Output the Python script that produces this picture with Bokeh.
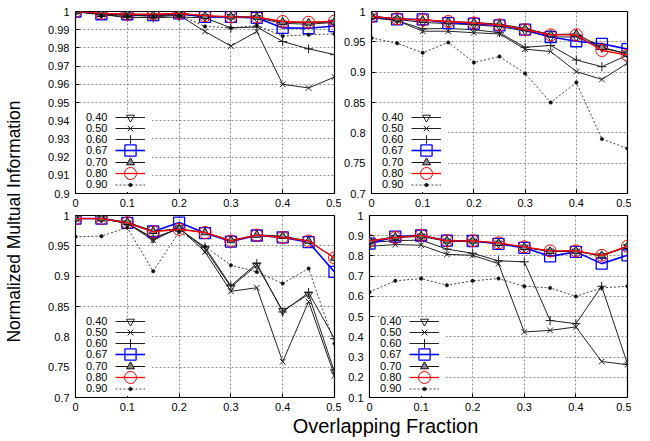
import math
from bokeh.plotting import figure
from bokeh.models import Range1d, FixedTicker, Legend, LegendItem, Label
from bokeh.layouts import row, column
from bokeh.embed import file_html
from bokeh.resources import INLINE

# ---------------- data ----------------
x = [0, 0.05, 0.1, 0.15, 0.2, 0.25, 0.3, 0.35, 0.4, 0.45, 0.5]
series_names = ["0.40", "0.50", "0.60", "0.67", "0.70", "0.80", "0.90"]

xticks = [0, 0.1, 0.2, 0.3, 0.4, 0.5]
xtick_labels = ["0", "0.1", "0.2", "0.3", "0.4", "0.5"]

a_yticks = [0.9, 0.91, 0.92, 0.93, 0.94, 0.95, 0.96, 0.97, 0.98, 0.99, 1]
a_ytick_labels = ["0.9", "0.91", "0.92", "0.93", "0.94", "0.95", "0.96", "0.97", "0.98", "0.99", "1"]
b_yticks = [0.7, 0.75, 0.8, 0.85, 0.9, 0.95, 1]
b_ytick_labels = ["0.7", "0.75", "0.8", "0.85", "0.9", "0.95", "1"]
d_yticks = [0.1, 0.2, 0.3, 0.4, 0.5, 0.6, 0.7, 0.8, 0.9, 1]
d_ytick_labels = ["0.1", "0.2", "0.3", "0.4", "0.5", "0.6", "0.7", "0.8", "0.9", "1"]

# top-left panel
a40 = [1.000, 0.9985, 0.998, 0.9975, 0.9985, 0.997, 0.997, 0.9965, 0.9935, 0.993, 0.994]
a50 = [1.000, 0.9985, 0.9965, 0.997, 0.998, 0.989, 0.981, 0.989, 0.960, 0.958, 0.964]
a60 = [1.000, 0.9985, 0.997, 0.9965, 0.997, 0.9965, 0.991, 0.9915, 0.9835, 0.9795, 0.9763]
a67 = [1.000, 0.9985, 0.9985, 0.998, 0.999, 0.997, 0.997, 0.9965, 0.991, 0.9908, 0.992]
a70 = [1.000, 0.9985, 0.9985, 0.998, 0.999, 0.9975, 0.9972, 0.997, 0.9942, 0.9938, 0.9943]
a80 = [1.000, 0.999, 0.9985, 0.9985, 0.999, 0.9977, 0.997, 0.9969, 0.9945, 0.9941, 0.9947]
a90 = [1.000, 0.998, 0.998, 0.9975, 0.998, 0.9918, 0.991, 0.9923, 0.9865, 0.9872, 0.9877]

# top-right panel
b40 = [0.992, 0.987, 0.982, 0.980, 0.978, 0.975, 0.968, 0.958, 0.958, 0.940, 0.930]
b50 = [0.990, 0.985, 0.9675, 0.9675, 0.965, 0.963, 0.938, 0.934, 0.901, 0.888, 0.915]
b60 = [0.990, 0.985, 0.9714, 0.972, 0.970, 0.965, 0.941, 0.944, 0.920, 0.909, 0.928]
b67 = [0.992, 0.987, 0.987, 0.981, 0.980, 0.977, 0.970, 0.958, 0.951, 0.9467, 0.938]
b70 = [0.992, 0.988, 0.986, 0.9835, 0.982, 0.979, 0.972, 0.962, 0.963, 0.941, 0.930]
b80 = [0.992, 0.988, 0.986, 0.9835, 0.981, 0.978, 0.970, 0.9615, 0.9615, 0.9357, 0.928]
b90 = [0.9565, 0.9477, 0.932, 0.949, 0.916, 0.9257, 0.898, 0.850, 0.883, 0.790, 0.774]

# bottom-left panel
c40 = [0.995, 0.995, 0.987, 0.962, 0.979, 0.945, 0.882, 0.918, 0.843, 0.870, 0.742]
c50 = [0.995, 0.995, 0.987, 0.959, 0.980, 0.940, 0.875, 0.881, 0.759, 0.858, 0.736]
c60 = [0.995, 0.995, 0.987, 0.963, 0.978, 0.948, 0.884, 0.921, 0.841, 0.873, 0.797]
c67 = [0.995, 0.995, 0.988, 0.9736, 0.9884, 0.971, 0.957, 0.967, 0.964, 0.956, 0.907]
c70 = [0.995, 0.995, 0.989, 0.974, 0.978, 0.972, 0.959, 0.968, 0.966, 0.958, 0.930]
c80 = [0.995, 0.995, 0.988, 0.973, 0.977, 0.972, 0.958, 0.9675, 0.9637, 0.958, 0.930]
c90 = [0.965, 0.966, 0.980, 0.908, 0.973, 0.949, 0.918, 0.907, 0.888, 0.9125, 0.789]

# bottom-right panel
d40 = [0.872, 0.890, 0.897, 0.872, 0.872, 0.862, 0.842, 0.822, 0.822, 0.800, 0.845]
d50 = [0.848, 0.856, 0.853, 0.808, 0.803, 0.762, 0.424, 0.432, 0.449, 0.278, 0.262]
d60 = [0.866, 0.876, 0.878, 0.834, 0.813, 0.776, 0.771, 0.481, 0.465, 0.650, 0.265]
d67 = [0.861, 0.896, 0.901, 0.876, 0.874, 0.860, 0.840, 0.798, 0.820, 0.762, 0.803]
d70 = [0.875, 0.894, 0.900, 0.875, 0.875, 0.863, 0.843, 0.823, 0.825, 0.802, 0.848]
d80 = [0.875, 0.891, 0.902, 0.875, 0.875, 0.865, 0.845, 0.825, 0.825, 0.803, 0.848]
d90 = [0.622, 0.677, 0.688, 0.655, 0.677, 0.688, 0.650, 0.642, 0.600, 0.642, 0.650]

# ---------------- styles ----------------
FONT = "Liberation Sans"
STY = {
    "0.40": dict(color="#222222", lw=1.0, dash="solid", marker="inverted_triangle", size=8, fill=None, mlw=1.0),
    "0.50": dict(color="#222222", lw=1.0, dash="solid", marker="x", size=8, fill=None, mlw=1.0),
    "0.60": dict(color="#222222", lw=1.0, dash="solid", marker="cross", size=9, fill=None, mlw=1.0),
    "0.67": dict(color="#0000ff", lw=1.6, dash="solid", marker="square", size=11, fill=None, mlw=1.3),
    "0.70": dict(color="#111111", lw=1.0, dash="solid", marker="triangle", size=8, fill="#888888", mlw=1.0),
    "0.80": dict(color="#ff0000", lw=1.3, dash="solid", marker="circle", size=12, fill=None, mlw=1.0),
    "0.90": dict(color="#111111", lw=0.8, dash="2 2", marker="circle", size=3.5, fill="#111111", mlw=0.5),
}
KEY_PITCH = 11.2      # px between key rows
KEY_BOTTOM = 9        # px from frame bottom to the centre of the last key row


def overrides(ticks, labels):
    d = {}
    for t, l in zip(ticks, labels):
        d[t] = l
        d[str(t)] = l
    return d


def plain_legend(items, loc, gw, gh, **kw):
    opts = dict(location=loc, glyph_width=gw, glyph_height=gh, label_width=0, label_height=0,
                label_standoff=0, padding=0, margin=0, spacing=0,
                background_fill_alpha=0, border_line_alpha=0,
                label_text_font=FONT, label_text_font_size="11px", label_text_color="black")
    opts.update(kw)
    return Legend(items=items, **opts)


def panel(series, yticks, ylabels, ymin, ymax, width, height, bl, br, bt, bb):
    p = figure(width=width, height=height, x_range=Range1d(0, 0.5), y_range=Range1d(ymin, ymax),
               output_backend="svg", toolbar_location=None, title=None,
               min_border_left=bl, min_border_right=br, min_border_top=bt, min_border_bottom=bb)
    p.background_fill_color = "white"
    p.border_fill_color = "white"
    p.outline_line_color = "black"
    p.outline_line_width = 1.2

    p.xaxis.ticker = FixedTicker(ticks=xticks, minor_ticks=[])
    p.yaxis.ticker = FixedTicker(ticks=yticks, minor_ticks=[])
    p.xaxis.major_label_overrides = overrides(xticks, xtick_labels)
    p.yaxis.major_label_overrides = overrides(yticks, ylabels)
    for ax in (p.xaxis, p.yaxis):
        ax.axis_line_color = None
        ax.major_tick_in = 4
        ax.major_tick_out = 0
        ax.major_tick_line_color = "black"
        ax.minor_tick_in = 0
        ax.minor_tick_out = 0
        ax.major_label_text_font = FONT
        ax.major_label_text_font_size = "11px"
        ax.major_label_text_color = "black"
    p.xaxis.major_label_standoff = 5
    p.yaxis.major_label_standoff = 6
    p.grid.grid_line_color = "#8c8c8c"
    p.grid.grid_line_dash = "2 2"
    p.grid.grid_line_width = 1

    rends = []
    for name, ys in zip(series_names, series):
        s = STY[name]
        lr = p.line(x, ys, line_color=s["color"], line_width=s["lw"], line_dash=s["dash"])
        mr = p.scatter(x, ys, marker=s["marker"], size=s["size"], line_color=s["color"],
                       line_width=s["mlw"], fill_color=s["fill"],
                       fill_alpha=(0 if s["fill"] is None else 1))
        rends.append((lr, mr))

    # invisible, empty renderer used for the key's box and text rows
    blank = p.line(x=[], y=[], line_alpha=0)

    # white key box without border
    p.add_layout(plain_legend([LegendItem(label=" ", renderers=[blank])], (1, 1), 76, 79,
                              background_fill_color="white", background_fill_alpha=1.0,
                              label_text_font_size="1px"), "center")

    n = len(series_names)
    for i, (name, (lr, mr)) in enumerate(zip(series_names, rends)):
        s = STY[name]
        cy = KEY_BOTTOM + (n - 1 - i) * KEY_PITCH
        # text of the key row
        p.add_layout(plain_legend([LegendItem(label=name, renderers=[blank])],
                                  (1, cy - 7), 10, 14, label_height=14), "center")
        # sample of the key row
        gh = int(round(s["size"] / 0.4))
        p.add_layout(plain_legend([LegendItem(label=" ", renderers=[lr, mr])],
                                  (40, cy - gh / 2.0), 30, gh, label_text_font_size="1px"), "center")
    return p


YW = 24
LW, RW = 317, 290
HT, HB, XH = 211, 205, 24
p1 = panel([a40, a50, a60, a67, a70, a80, a90], a_yticks, a_ytick_labels, 0.9, 1.0, LW, HT, 51, 7, 11, 18)
p2 = panel([b40, b50, b60, b67, b70, b80, b90], b_yticks, b_ytick_labels, 0.7, 1.0, RW, HT, 28, 4, 11, 18)
p3 = panel([c40, c50, c60, c67, c70, c80, c90], b_yticks, b_ytick_labels, 0.7, 1.0, LW, HB, 51, 7, 4, 19)
p4 = panel([d40, d50, d60, d67, d70, d80, d90], d_yticks, d_ytick_labels, 0.1, 1.0, RW, HB, 28, 4, 4, 19)


def text_fig(width, height, text, fx, fy, angle, size):
    f = figure(width=width, height=height, x_range=Range1d(0, 1), y_range=Range1d(0, 1),
               output_backend="svg", toolbar_location=None, title=None,
               min_border_left=0, min_border_right=0, min_border_top=0, min_border_bottom=0)
    f.axis.visible = False
    f.grid.visible = False
    f.outline_line_color = None
    f.background_fill_color = "white"
    f.border_fill_color = "white"
    f.add_layout(Label(x=fx, y=fy, text=text, angle=angle, text_align="center",
                       text_baseline="middle", text_font=FONT, text_font_size=size,
                       text_color="black"))
    return f


TOTAL_H = HT + HB + XH
xlab = text_fig(LW + RW, XH, "Overlapping Fraction", (385.0 - YW) / (LW + RW), 0.6, 0, "20px")
ylab = text_fig(YW, TOTAL_H, "Normalized Multual Information", 13.0 / YW, 1 - 221.0 / TOTAL_H,
                math.pi / 2, "17.5px")

layout = row(ylab, column(row(p1, p2), row(p3, p4), xlab))

open("out.html", "w").write(file_html(layout, INLINE))
